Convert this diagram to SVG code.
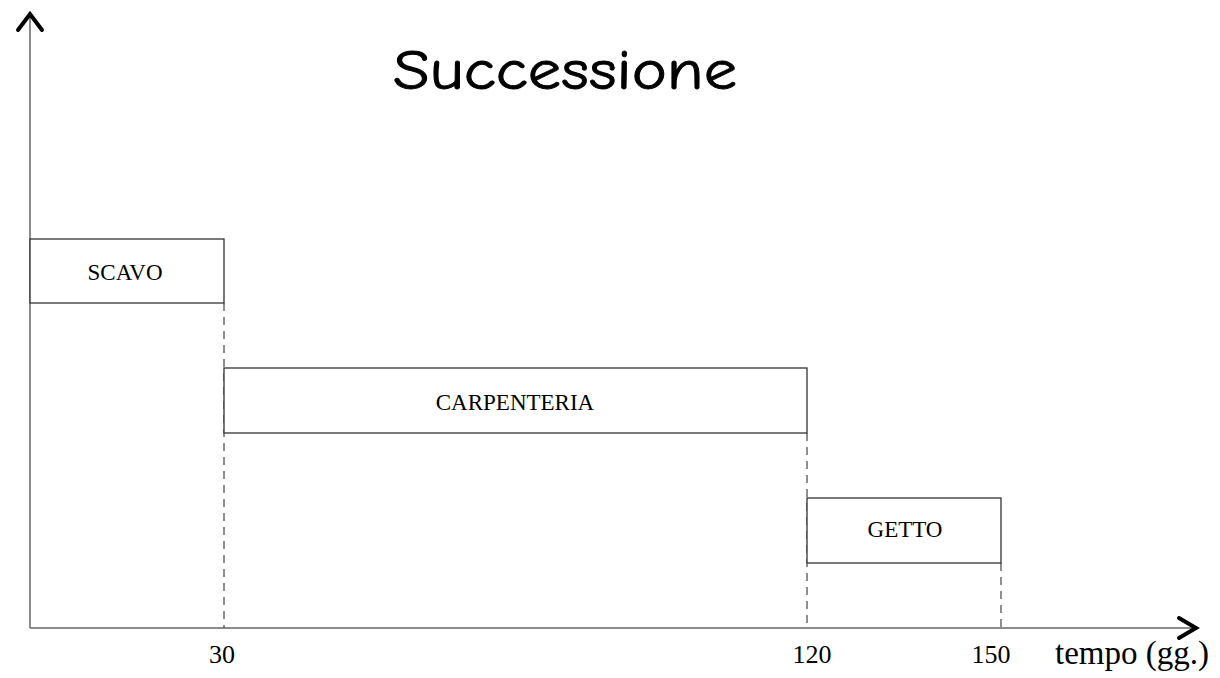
<svg xmlns="http://www.w3.org/2000/svg" width="1220" height="678" viewBox="0 0 1220 678">
<style>
.box{fill:#fff;stroke:#333;stroke-width:1.3}
.lbl{font-family:"Liberation Serif","Times New Roman",serif;font-size:23px;fill:#000;text-anchor:middle}
.tick{font-family:"Liberation Serif","Times New Roman",serif;font-size:26px;fill:#000;text-anchor:middle}
.dash{stroke:#444;stroke-width:1.2;stroke-dasharray:8,6;fill:none}
.axis{stroke:#666;stroke-width:1.5;fill:none}
.head{stroke:#000;stroke-width:4;fill:none;stroke-linecap:round;stroke-linejoin:miter}
</style>
<rect width="1220" height="678" fill="#fff"/>
<text x="393" y="89" font-family="'Comic Sans MS','Comic Neue','DejaVu Sans',sans-serif" font-size="56" font-weight="400" stroke="#000" stroke-width="0.9" textLength="344" lengthAdjust="spacingAndGlyphs" fill="#000">Successione</text>
<g id="connectors">
<line class="axis" x1="30" y1="16" x2="30" y2="628"/>
<line class="axis" x1="30" y1="628" x2="1194" y2="628"/>
<polyline class="head" points="18,30 30,14 42,30"/>
<polyline class="head" points="1179,618 1196,628 1179,638"/>
<line class="dash" x1="224" y1="303" x2="224" y2="628"/>
<line class="dash" x1="807" y1="433" x2="807" y2="628"/>
<line class="dash" x1="1001" y1="563" x2="1001" y2="628"/>
</g>
<g id="scavo">
<rect class="box" x="30" y="239" width="194" height="64"/>
<text class="lbl" x="125" y="280">SCAVO</text>
</g>
<g id="carpenteria">
<rect class="box" x="224" y="368" width="583" height="65"/>
<text class="lbl" x="515" y="410">CARPENTERIA</text>
</g>
<g id="getto">
<rect class="box" x="807" y="498" width="194" height="65"/>
<text class="lbl" x="905" y="537">GETTO</text>
</g>
<g id="ticks">
<text class="tick" x="222" y="663">30</text>
<text class="tick" x="812" y="663">120</text>
<text class="tick" x="991" y="663">150</text>
<text x="1055" y="664" font-family="'Liberation Serif','Times New Roman',serif" font-size="33" fill="#000">tempo (gg.)</text>
</g>
</svg>
